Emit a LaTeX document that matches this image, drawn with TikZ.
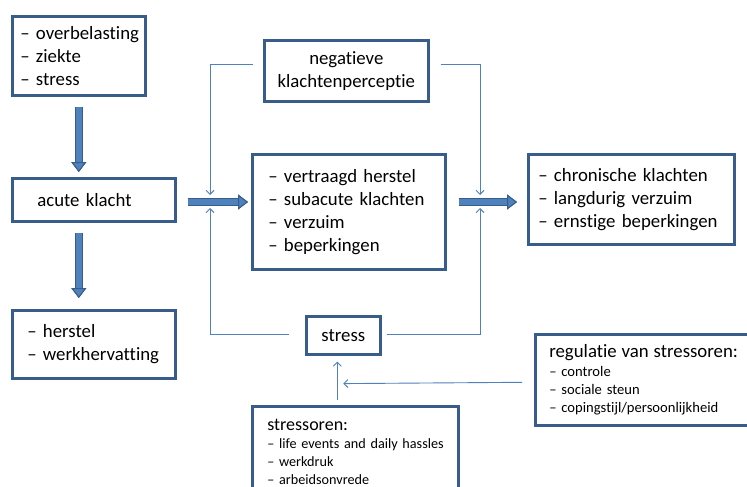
\documentclass[tikz,border=0pt]{standalone}
\usepackage{fontspec}
\setmainfont{Carlito}[Ligatures=NoCommon]
\usetikzlibrary{calc,arrows.meta}
\definecolor{bordc}{HTML}{385D8A}
\definecolor{fillc}{HTML}{4F81BD}
\definecolor{linec}{HTML}{4F81BD}
\tikzset{
  box/.style={draw=bordc, line width=2.6pt, fill=white, rectangle, anchor=north west,
    inner ysep=0pt, align=left, font=\fontsize{18.8}{23}\selectfont},
  fat/.style={line width=6.5pt, draw=fillc,
    -{Triangle[length=10pt,width=15pt,line width=1pt,fill=fillc,color=bordc]},
    preaction={draw=bordc, line width=8.5pt, -{Triangle[length=10pt,width=15pt,line width=1pt]}}},
  thinarr/.style={draw=linec, line width=0.9pt, -{Straight Barb[length=4pt,width=8pt]}},
}
\begin{document}
\begin{tikzpicture}[x=1pt,y=-1pt]
\useasboundingbox (0,0) rectangle (747,487);
\fill[white] (0,0) rectangle (747,487);

\node[box, text width=117pt, inner xsep=8pt, minimum height=79pt] (b1) at (11,15)
  {\mbox{– overbelasting}\\\mbox{– ziekte}\\\mbox{– stress}};
\node[box, text width=113pt, inner xsep=25pt, minimum height=43pt] (acute) at (11,177)
  {\mbox{acute klacht}};
\node[box, text width=133pt, inner xsep=15pt, minimum height=68pt] (herstel) at (11,309)
  {\mbox{– herstel}\\\mbox{– werkhervatting}};
\node[box, align=center, text width=150pt, inner xsep=7pt, minimum height=61pt] (neg) at (263,39)
  {negatieve\\\mbox{klachtenperceptie}};
\node[box, text width=161pt, inner xsep=16pt, minimum height=115pt] (mid) at (251,153)
  {\mbox{– vertraagd herstel}\\\mbox{– subacute klachten}\\\mbox{– verzuim}\\\mbox{– beperkingen}};
\node[box, text width=186pt, inner xsep=10pt, minimum height=90pt] (chron) at (527,153)
  {\mbox{– chronische klachten}\\\mbox{– langdurig verzuim}\\\mbox{– ernstige beperkingen}};
\node[box, align=center, text width=60pt, inner xsep=7pt, minimum height=38pt] (stress) at (305,315)
  {stress};
\node[box, text width=176pt, inner xsep=15pt, inner ysep=13pt, font=\fontsize{14.2}{18}\selectfont] (stressoren) at (251,405)
  {\mbox{\fontsize{18}{19}\selectfont stressoren:}\\\mbox{– life events and daily hassles}\\\mbox{– werkdruk}\\\mbox{– arbeidsonvrede}\rule[-25pt]{0pt}{1pt}};
\node[box, text width=192pt, inner xsep=14pt, minimum height=91pt, font=\fontsize{14.6}{18}\selectfont] (regul) at (534,333)
  {\mbox{\fontsize{18.8}{19}\selectfont regulatie van stressoren:}\\[1.5pt]\mbox{– controle}\\\mbox{– sociale steun}\\\mbox{– copingstijl/persoonlijkheid}};

\coordinate (ay) at (0,202);
\coordinate (jl) at (210,202);
\coordinate (jr) at (480,202);

\draw[fat, shorten <=10pt, shorten >=5pt] (b1.south) -- (b1.south |- acute.north);
\draw[fat, shorten <=10pt, shorten >=11pt] (b1.south |- acute.south) -- (b1.south |- herstel.north);
\draw[fat, shorten <=11pt, shorten >=3pt] (acute.east |- ay) -- (mid.west |- ay);
\draw[fat, shorten <=12pt, shorten >=10pt] (mid.east |- ay) -- (chron.west |- ay);

\draw[thinarr] ($(neg.west)+(-10,-6.5)$) -| ($(jl)+(0,-7)$);
\draw[thinarr] ($(neg.east)+(11,-6.5)$) -| ($(jr)+(0,-7)$);
\draw[thinarr] ($(stress.west)+(-16,-1)$) -| ($(jl)+(0,6)$);
\draw[thinarr] ($(stress.east)+(5,-1)$) -| ($(jr)+(0,6)$);
\draw[thinarr] ($(stressoren.north)+(-18,-5)$) -- ($(stress.south)+(-6,6)$);
\draw[thinarr] ($(regul.west)+(-12,2.5)$) -- ($(stress.south)+(0,28)$);
\end{tikzpicture}
\end{document}
